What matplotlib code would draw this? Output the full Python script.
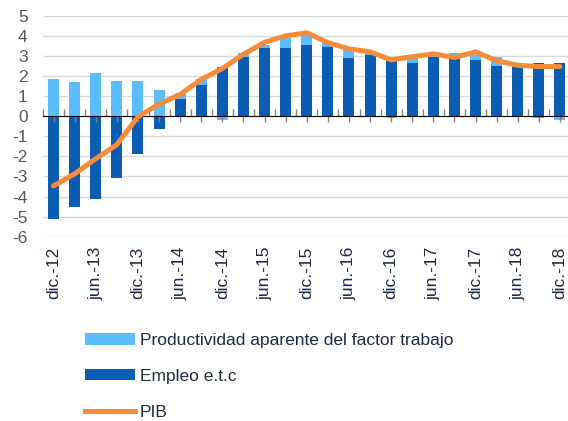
import matplotlib
matplotlib.use("Agg")
import matplotlib.pyplot as plt
import numpy as np
from matplotlib.patches import Patch
from matplotlib.lines import Line2D

plt.rcParams['font.family'] = ['Liberation Sans', 'DejaVu Sans']

categories = ['dic.-12', 'mar.-13', 'jun.-13', 'sep.-13', 'dic.-13', 'mar.-14', 'jun.-14',
              'sep.-14', 'dic.-14', 'mar.-15', 'jun.-15', 'sep.-15', 'dic.-15', 'mar.-16',
              'jun.-16', 'sep.-16', 'dic.-16', 'mar.-17', 'jun.-17', 'sep.-17', 'dic.-17',
              'mar.-18', 'jun.-18', 'sep.-18', 'dic.-18']
empleo = [-5.13, -4.50, -4.12, -3.08, -1.90, -0.63, 0.87, 1.55, 2.45, 2.92, 3.37, 3.37, 3.53,
          3.45, 2.90, 3.05, 2.75, 2.67, 2.92, 2.88, 2.80, 2.50, 2.47, 2.63, 2.63]
productividad = [1.83, 1.70, 2.17, 1.77, 1.77, 1.30, 0.26, 0.28, -0.17, 0.20, 0.18, 0.50, 0.55,
                 0.17, 0.40, 0.20, -0.08, 0.20, 0.25, 0.24, 0.25, 0.42, 0.03, -0.08, -0.17]
pib = [-3.47, -2.87, -2.12, -1.42, -0.03, 0.60, 1.08, 1.83, 2.37, 3.08, 3.67, 4.00, 4.15,
       3.66, 3.35, 3.20, 2.80, 2.96, 3.10, 2.92, 3.20, 2.76, 2.53, 2.47, 2.47]
yticks = [5, 4, 3, 2, 1, 0, -1, -2, -3, -4, -5, -6]

labels = ['Productividad aparente del factor trabajo', 'Empleo e.t.c', 'PIB']
c_light = '#5CBDFD'
c_dark = '#0B5DB1'
c_orange = '#F68B3A'
c_text = '#1E2A46'
c_grid = '#D9D9D9'

W, H = 568, 421
fig = plt.figure(figsize=(W / 100, H / 100), dpi=100)
ax = fig.add_axes([43 / W, 1 - 236.7 / H, 527.5 / W, (236.7 - 15.7) / H])

x = np.arange(len(categories))
emp = np.array(empleo)
prod = np.array(productividad)
bw = 0.52

pos = np.zeros(len(x))
neg = np.zeros(len(x))
for vals, col in [(emp, c_dark), (prod, c_light)]:
    bottoms = np.where(vals >= 0, pos, neg)
    ax.bar(x, vals, bw, bottom=bottoms, color=col, zorder=2, linewidth=0)
    pos = pos + np.where(vals >= 0, vals, 0)
    neg = neg + np.where(vals < 0, vals, 0)

ax.plot(x, pib, color=c_orange, lw=3.6, zorder=4, solid_capstyle='round', solid_joinstyle='round')

ax.set_xlim(-0.5, len(categories) - 0.5)
ax.set_ylim(-6, 5)
ax.set_yticks(yticks)
ax.set_yticklabels([str(v) for v in yticks])
ax.yaxis.grid(True, color=c_grid, lw=1.0, zorder=0)
ax.set_axisbelow(True)
ax.tick_params(axis='y', length=0, pad=11, labelsize=12.5, labelcolor='#595959')

ax.set_xticks(x[::2])
ax.set_xticklabels(categories[::2], rotation=90)
ax.tick_params(axis='x', length=0, pad=7, labelsize=12.5, labelcolor=c_text)
for s in ax.spines.values():
    s.set_visible(False)

# zero axis line with tick marks
sec = ax.secondary_xaxis(6 / 11)
sec.set_xticks(x)
sec.set_xticks(np.arange(-0.5, len(categories) + 0.5, 1), minor=True)
sec.tick_params(axis='x', which='major', direction='in', length=4, color='#808080', width=1,
                labelbottom=False)
sec.tick_params(axis='x', which='minor', direction='out', length=5, color='#808080', width=1)
sec.spines['bottom'].set_color('#808080')
sec.spines['bottom'].set_linewidth(1)
sec.set_xticklabels([])
sec.set_zorder(3)

handles = [Patch(facecolor=c_light, linewidth=0), Patch(facecolor=c_dark, linewidth=0),
           Line2D([], [], color=c_orange, lw=3.6)]
fig.legend(handles, labels, loc='upper left', bbox_to_anchor=(85 / W, 1 - 333 / H),
           frameon=False, borderpad=0, borderaxespad=0, handlelength=2.87, handleheight=0.63,
           handletextpad=0.3, labelspacing=1.2, fontsize=12.5, labelcolor=c_text)

fig.savefig('out.png', dpi=100)
